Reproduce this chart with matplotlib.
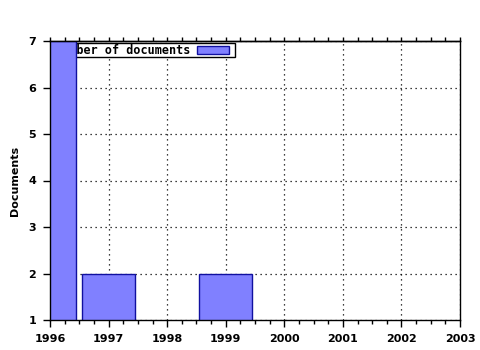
import matplotlib
matplotlib.use("Agg")
import matplotlib.pyplot as plt
from matplotlib.patches import Rectangle
from matplotlib.ticker import MultipleLocator

years = [1996, 1997, 1999]
documents = [7, 2, 2]
series_label = "Number of documents"
x_ticks = [1996, 1997, 1998, 1999, 2000, 2001, 2002, 2003]
y_ticks = [1, 2, 3, 4, 5, 6, 7]

W, H = 480, 350
fig = plt.figure(figsize=(W / 100, H / 100), dpi=100)
ax = fig.add_axes([50 / W, (H - 320) / H, 410 / W, 279 / H])

bar_face = "#8080ff"
bar_edge = "#1010a0"
bars = ax.bar(years, documents, width=0.9, color=bar_face,
              edgecolor=bar_edge, linewidth=1.0, zorder=3)

ax.set_xlim(1996, 2003)
ax.set_ylim(1, 7)
ax.set_xticks(x_ticks)
ax.set_yticks(y_ticks)
ax.xaxis.set_minor_locator(MultipleLocator(0.25))
ax.tick_params(axis="both", which="both", direction="out", top=False, right=False,
               labelsize=8)
ax.tick_params(axis="both", which="major", length=5, width=1)
ax.tick_params(axis="x", which="minor", length=3, width=1)
for lab in ax.get_xticklabels() + ax.get_yticklabels():
    lab.set_fontweight("bold")
ax.tick_params(axis="x", pad=5)
ax.tick_params(axis="y", pad=5)

# mirrored short ticks along the top edge
top = ax.secondary_xaxis("top")
top.set_xticks(x_ticks)
top.xaxis.set_minor_locator(MultipleLocator(0.25))
top.tick_params(axis="x", which="both", direction="out", length=3, width=1,
                labeltop=False)
top.spines["top"].set_linewidth(1.0)

ax.grid(True, which="major", color="black", linestyle=(0, (1, 3)), linewidth=0.9, zorder=0.5)
ax.set_axisbelow(True)
for s in ax.spines.values():
    s.set_linewidth(1.0)
    s.set_zorder(4)

ax.set_ylabel("Documents", fontsize=8, fontweight="bold", labelpad=6)

# key box (partly hidden behind the first bar, as in the reference)
def fx(px):
    return px / W

def fy(py):
    return (H - py) / H

key_box = Rectangle((fx(52), fy(57)), fx(235) - fx(52), fy(43) - fy(57),
                    transform=fig.transFigure, facecolor="white", edgecolor="black",
                    linewidth=1.0, zorder=2, clip_on=False)
ax.add_patch(key_box)
key_sample = Rectangle((fx(197), fy(53.5)), fx(229) - fx(197), fy(45.5) - fy(53.5),
                       transform=fig.transFigure, facecolor=bar_face, edgecolor=bar_edge,
                       linewidth=1.0, zorder=2.1, clip_on=False)
ax.add_patch(key_sample)
ax.text(fx(190), fy(50), series_label, transform=fig.transFigure, ha="right", va="center",
        family="DejaVu Sans Mono", fontsize=8.5, fontweight="bold", zorder=2.2)

fig.savefig("out.png", dpi=100)
